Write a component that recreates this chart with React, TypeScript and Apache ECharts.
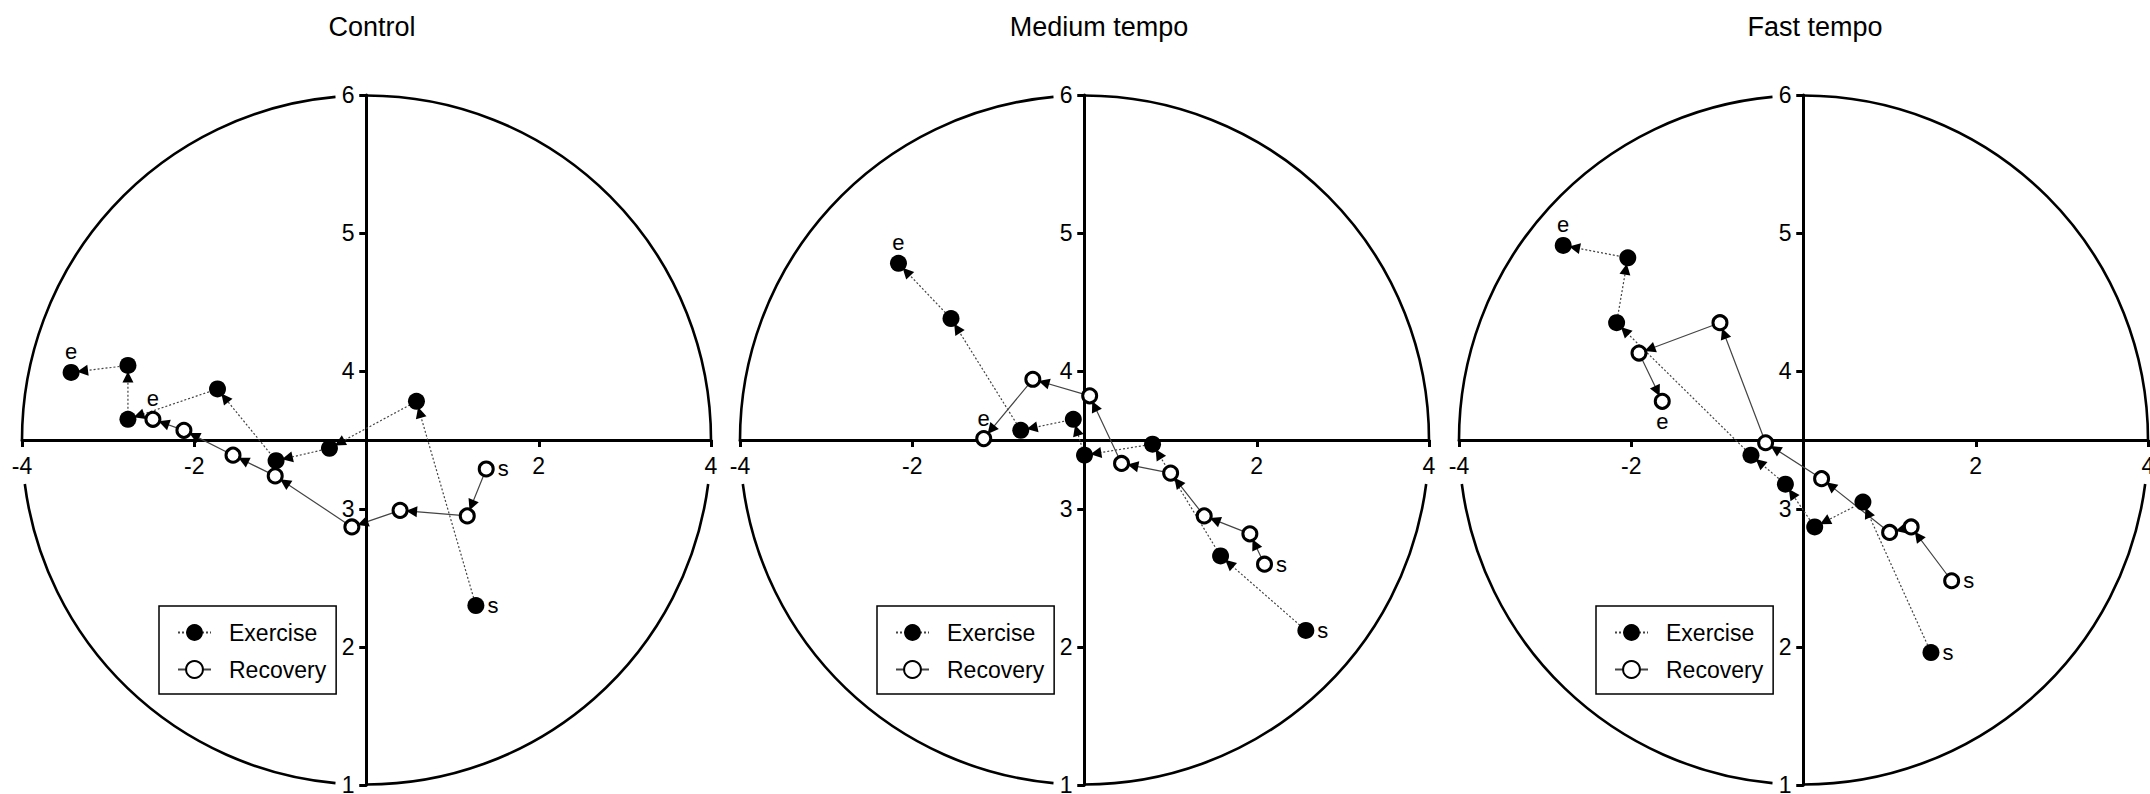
import React, { useEffect, useRef } from 'react';
import * as echarts from 'echarts';

// ---------- data ----------
const panelTitles = ['Control', 'Medium tempo', 'Fast tempo'];
const seriesNames = ['Exercise', 'Recovery'];

const controlExercise = [[1.27, 2.3], [0.58, 3.78], [-0.43, 3.44], [-1.05, 3.35], [-1.73, 3.87], [-2.77, 3.65], [-2.77, 4.04], [-3.43, 3.99]];
const controlRecovery = [[1.39, 3.29], [1.17, 2.95], [0.39, 2.99], [-0.17, 2.87], [-1.06, 3.24], [-1.55, 3.39], [-2.12, 3.57], [-2.48, 3.65]];
const mediumExercise = [[2.57, 2.12], [1.58, 2.66], [0.79, 3.47], [0.0, 3.39], [-0.13, 3.65], [-0.74, 3.57], [-1.55, 4.38], [-2.16, 4.78]];
const mediumRecovery = [[2.09, 2.6], [1.92, 2.82], [1.39, 2.95], [1.0, 3.26], [0.43, 3.33], [0.06, 3.82], [-0.6, 3.94], [-1.17, 3.51]];
const fastExercise = [[1.48, 1.96], [0.69, 3.05], [0.13, 2.87], [-0.21, 3.18], [-0.61, 3.39], [-2.17, 4.35], [-2.04, 4.82], [-2.79, 4.91]];
const fastRecovery = [[1.72, 2.48], [1.25, 2.87], [1.0, 2.83], [0.21, 3.22], [-0.44, 3.48], [-0.97, 4.35], [-1.91, 4.13], [-1.64, 3.78]];

const xMin = -4, xMax = 4, xInterval = 2;
const yMin = 1, yMax = 6, yInterval = 1;
const xTickLabels = [-4, -2, 2, 4];
const yTickLabels = [1, 2, 3, 4, 5, 6];
const startLabel = 's';
const endLabel = 'e';

// ---------- layout / style ----------
const panels = [
  { exercise: controlExercise, recovery: controlRecovery },
  { exercise: mediumExercise, recovery: mediumRecovery },
  { exercise: fastExercise, recovery: fastRecovery },
];
const endLabelPos = [['top', 'top'], ['top', 'top'], ['top', 'bottom']];
const gridLefts = [22, 740, 1459];
const titleCenters = [367, 1094, 1810];
const GW = 689, GT = 95, GH = 690;
const FONT = "'Liberation Sans', Arial, Helvetica, sans-serif";
const ARROW_BACK = 6, ARROW_LEN = 11, ARROW_HALF = 5.5;
// pixel extents of the frame-circle gaps where the tick labels sit
const GAP_SIDE = 44, GAP_TOP = 31;

const axisLineStyle = { color: '#000', width: 3 };

function segments(pts: number[][]) {
  return pts.slice(1).map((p, k) => [pts[k][0], pts[k][1], p[0], p[1]]);
}

function arrowRender(params: any, api: any) {
  const a = api.coord([api.value(0), api.value(1)]);
  const b = api.coord([api.value(2), api.value(3)]);
  const dx = b[0] - a[0], dy = b[1] - a[1];
  const len = Math.hypot(dx, dy) || 1;
  const ux = dx / len, uy = dy / len;
  const tip = [b[0] - ux * ARROW_BACK, b[1] - uy * ARROW_BACK];
  const base = [tip[0] - ux * ARROW_LEN, tip[1] - uy * ARROW_LEN];
  return {
    type: 'polygon',
    shape: {
      points: [
        tip,
        [base[0] - uy * ARROW_HALF, base[1] + ux * ARROW_HALF],
        [base[0] + uy * ARROW_HALF, base[1] - ux * ARROW_HALF],
      ],
    },
    style: { fill: '#000' },
  };
}

function circleRender(params: any, api: any) {
  const c = api.coord([api.value(0), api.value(1)]);
  const r = api.size([(xMax - xMin) / 2, 0])[0];
  const aSide = Math.asin(GAP_SIDE / r);
  const aTop = Math.asin(GAP_TOP / r);
  const P = Math.PI;
  const spans = [
    [aSide, P / 2],
    [P / 2 + aTop, P - aSide],
    [P, 1.5 * P - aTop],
    [1.5 * P, 2 * P],
  ];
  return {
    type: 'group',
    children: spans.map(([s, e]) => ({
      type: 'arc',
      shape: { cx: c[0], cy: c[1], r, startAngle: s, endAngle: e, clockwise: true },
      style: { fill: 'none', stroke: '#000', lineWidth: 2.6 },
    })),
  };
}

function pointData(pts: number[][], endPos: string) {
  const last = pts.length - 1;
  return pts.map((p, i) => {
    if (i === 0) return { value: p, label: { show: true, formatter: startLabel, position: 'right', distance: 3 } };
    if (i === last) return { value: p, label: { show: true, formatter: endLabel, position: endPos, distance: 1 } };
    return { value: p };
  });
}

function buildOption() {
  const grid: any[] = [];
  const xAxis: any[] = [];
  const yAxis: any[] = [];
  const series: any[] = [];
  const title: any[] = [];
  const legend: any[] = [];

  panels.forEach((pan, i) => {
    grid.push({ left: gridLefts[i], top: GT, width: GW, height: GH, containLabel: false, outerBoundsMode: 'none' });
    title.push({
      text: panelTitles[i], left: titleCenters[i], top: 8, textAlign: 'center',
      textStyle: { fontSize: 27, fontWeight: 'normal', color: '#000', fontFamily: FONT },
    });
    const xi = 2 * i;
    xAxis.push({
      type: 'value', gridIndex: i, min: xMin, max: xMax, interval: xInterval, offset: -GH / 2, z: 1,
      axisLine: { show: true, onZero: false, lineStyle: axisLineStyle },
      axisTick: { show: true, inside: false, length: 7, lineStyle: axisLineStyle },
      axisLabel: { customValues: xTickLabels, fontSize: 23, color: '#000', fontFamily: FONT, margin: 14 },
      splitLine: { show: false },
    });
    xAxis.push({
      type: 'value', gridIndex: i, min: xMin, max: xMax, interval: xInterval, offset: -GH / 2, z: 1,
      axisLine: { show: false, onZero: false },
      axisTick: { show: true, inside: true, length: 7, lineStyle: axisLineStyle },
      axisLabel: { show: false },
      splitLine: { show: false },
    });
    yAxis.push({
      type: 'value', gridIndex: i, min: yMin, max: yMax, interval: yInterval, offset: -GW / 2, z: 1,
      axisLine: { show: true, onZero: false, lineStyle: axisLineStyle },
      axisTick: { show: true, inside: false, length: 7, lineStyle: axisLineStyle },
      axisLabel: { customValues: yTickLabels, fontSize: 23, color: '#000', fontFamily: FONT, margin: 12 },
      splitLine: { show: false },
    });
    yAxis.push({
      type: 'value', gridIndex: i, min: yMin, max: yMax, interval: yInterval, offset: -GW / 2, z: 1,
      axisLine: { show: false, onZero: false },
      axisTick: { show: true, inside: true, length: 7, lineStyle: axisLineStyle },
      axisLabel: { show: false },
      splitLine: { show: false },
    });

    series.push({
      type: 'custom', xAxisIndex: xi, yAxisIndex: xi, z: 0, silent: true,
      data: [[(xMin + xMax) / 2, (yMin + yMax) / 2]],
      renderItem: circleRender,
    });
    series.push({
      name: seriesNames[0], type: 'line', xAxisIndex: xi, yAxisIndex: xi, z: 3,
      data: pointData(pan.exercise, endLabelPos[i][0]),
      symbol: 'circle', symbolSize: 17, showAllSymbol: true,
      itemStyle: { color: '#000' },
      lineStyle: { color: '#444', width: 1.2, type: [2, 2] },
      label: { fontSize: 22, color: '#000', fontFamily: FONT },
      emphasis: { disabled: true },
    });
    series.push({
      name: seriesNames[1], type: 'line', xAxisIndex: xi, yAxisIndex: xi, z: 3,
      data: pointData(pan.recovery, endLabelPos[i][1]),
      symbol: 'circle', symbolSize: 14, showAllSymbol: true,
      itemStyle: { color: '#fff', borderColor: '#000', borderWidth: 3 },
      lineStyle: { color: '#444', width: 1.2, type: 'solid' },
      label: { fontSize: 22, color: '#000', fontFamily: FONT },
      emphasis: { disabled: true },
    });
    [pan.exercise, pan.recovery].forEach((pts) => {
      series.push({
        type: 'custom', xAxisIndex: xi, yAxisIndex: xi, z: 5, silent: true,
        data: segments(pts),
        encode: { x: [0, 2], y: [1, 3] },
        renderItem: arrowRender,
      });
    });

    legend.push({
      data: seriesNames, orient: 'vertical', left: gridLefts[i] + 137, top: 606,
      itemWidth: 33, itemHeight: 21, itemGap: 14,
      padding: [15, 10, 13, 18], borderColor: '#000', borderWidth: 1.5,
      textStyle: { fontSize: 23, color: '#000', fontFamily: FONT, padding: [0, 0, 0, 13] },
      selectedMode: false,
    });
  });

  return { animation: false, backgroundColor: '#fff', title, grid, xAxis, yAxis, series, legend };
}

export default function App() {
  const ref = useRef<HTMLDivElement>(null);
  useEffect(() => {
    if (!ref.current) return;
    const chart = echarts.init(ref.current, undefined, { renderer: 'svg' });
    chart.setOption(buildOption() as any);
    return () => chart.dispose();
  }, []);
  return <div ref={ref} style={{ position: 'absolute', left: 0, top: 0, width: 2150, height: 794 }} />;
}
